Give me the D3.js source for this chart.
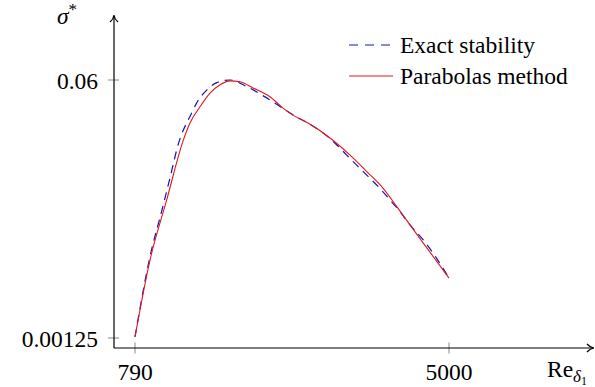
<!DOCTYPE html>
<html>
<head>
<meta charset="utf-8">
<script src="https://cdn.jsdelivr.net/npm/d3@7"></script>
<style>
  body { margin: 0; background: #fff; }
  svg { display: block; }
  text { font-family: "Liberation Serif", "Times New Roman", Times, "DejaVu Serif", "Noto Serif", serif; }
</style>
</head>
<body>
<div id="chart"></div>
<script>
// --------------------------------------------------------
// DATA
// --------------------------------------------------------
const exactRe = [790, 991, 1152, 1259, 1367, 1550, 1617, 1729, 1885, 2064, 2288, 2489, 2667, 2935, 3114, 3315, 3472, 3629, 3763, 3918, 4075, 4209, 4343, 4477, 4655, 4834, 5000];
const exactSigma = [0.0015, 0.0198, 0.0304, 0.0377, 0.0452, 0.0525, 0.0548, 0.0573, 0.0594, 0.0600, 0.0585, 0.0566, 0.0547, 0.0518, 0.0501, 0.0479, 0.0456, 0.0429, 0.0406, 0.0380, 0.0353, 0.0327, 0.0300, 0.0270, 0.0236, 0.0194, 0.0149];

const paraRe = [790, 991, 1215, 1438, 1527, 1662, 1796, 1930, 2064, 2198, 2372, 2600, 2774, 2908, 3110, 3405, 3673, 3901, 4115, 4303, 4477, 4745, 5000];
const paraSigma = [0.0015, 0.0190, 0.0327, 0.0463, 0.0502, 0.0539, 0.0570, 0.0589, 0.0598, 0.0596, 0.0582, 0.0562, 0.0536, 0.0520, 0.0502, 0.0468, 0.0429, 0.0391, 0.0354, 0.0311, 0.0270, 0.0208, 0.0149];

const xTicks = [790, 5000];
const yTicks = [0.00125, 0.06];
const yTickLabels = ["0.00125", "0.06"];
const legendLabels = ["Exact stability", "Parabolas method"];

// --------------------------------------------------------
// VARIABLES
// --------------------------------------------------------
const width = 595;
const height = 387;
const axisX = 114;   // y axis position
const axisY = 348;   // x axis position
const fontSize = 23.5;
const blue = "#1414b4";
const red = "#e3161c";

const x = d3.scaleLinear().domain([790, 5000]).range([135, 449]);
const y = d3.scaleLinear().domain([0.00125, 0.06]).range([338, 80]);

const svg = d3.select("#chart")
  .append("svg")
  .attr("width", width)
  .attr("height", height);

// --------------------------------------------------------
// AXES
// --------------------------------------------------------
// ticks (grey, crossing the axis)
svg.append("g")
  .selectAll("line")
  .data(xTicks)
  .join("line")
  .attr("x1", (d) => x(d))
  .attr("x2", (d) => x(d))
  .attr("y1", axisY - 5.5)
  .attr("y2", axisY + 5.5)
  .attr("stroke", "#888")
  .attr("stroke-width", 1);

svg.append("g")
  .selectAll("line")
  .data(yTicks)
  .join("line")
  .attr("x1", axisX - 6)
  .attr("x2", axisX + 5)
  .attr("y1", (d) => y(d))
  .attr("y2", (d) => y(d))
  .attr("stroke", "#888")
  .attr("stroke-width", 1);

// axis lines
svg.append("line")
  .attr("x1", axisX).attr("y1", axisY)
  .attr("x2", axisX).attr("y2", 16)
  .attr("stroke", "black").attr("stroke-width", 1.2);

svg.append("line")
  .attr("x1", axisX).attr("y1", axisY)
  .attr("x2", 593).attr("y2", axisY)
  .attr("stroke", "black").attr("stroke-width", 1.2);

// arrow heads (latex "to" style)
svg.append("path")
  .attr("d", `M${axisX - 4},${22} Q${axisX - 0.5},${19} ${axisX},${15} Q${axisX + 0.5},${19} ${axisX + 4},${22}`)
  .attr("fill", "none").attr("stroke", "black").attr("stroke-width", 1.2);

svg.append("path")
  .attr("d", `M${587},${axisY - 4} Q${590},${axisY - 0.5} ${594},${axisY} Q${590},${axisY + 0.5} ${587},${axisY + 4}`)
  .attr("fill", "none").attr("stroke", "black").attr("stroke-width", 1.2);

// tick labels
svg.append("g")
  .selectAll("text")
  .data(xTicks)
  .join("text")
  .attr("x", (d) => x(d))
  .attr("y", 380)
  .attr("text-anchor", "middle")
  .attr("font-size", fontSize)
  .text((d) => d);

svg.append("g")
  .selectAll("text")
  .data(yTicks)
  .join("text")
  .attr("x", 98)
  .attr("y", (d) => y(d) + 8.5)
  .attr("text-anchor", "end")
  .attr("font-size", fontSize)
  .text((d, i) => yTickLabels[i]);

// axis titles
const yTitle = svg.append("text")
  .attr("x", 57)
  .attr("y", 24)
  .attr("font-size", fontSize)
  .attr("font-style", "italic");
yTitle.append("tspan").text("σ");
yTitle.append("tspan").attr("dy", -9).attr("font-size", 17).attr("font-style", "normal").text("*");

const xTitle = svg.append("text")
  .attr("x", 547)
  .attr("y", 377)
  .attr("font-size", fontSize);
xTitle.append("tspan").text("Re");
xTitle.append("tspan").attr("dy", 5).attr("font-size", 17).attr("font-style", "italic").text("δ");
xTitle.append("tspan").attr("dy", 3).attr("font-size", 12).text("1");

// --------------------------------------------------------
// CURVES
// --------------------------------------------------------
const line = d3.line()
  .x((d) => x(d[0]))
  .y((d) => y(d[1]))
  .curve(d3.curveMonotoneX);

svg.append("path")
  .datum(d3.zip(exactRe, exactSigma))
  .attr("fill", "none")
  .attr("stroke", blue)
  .attr("stroke-width", 1.2)
  .attr("stroke-dasharray", "8,6")
  .attr("d", line);

svg.append("path")
  .datum(d3.zip(paraRe, paraSigma))
  .attr("fill", "none")
  .attr("stroke", red)
  .attr("stroke-width", 1.1)
  .attr("d", line);

// --------------------------------------------------------
// LEGEND
// --------------------------------------------------------
const legendStyles = [
  { stroke: blue, dash: "9,7" },
  { stroke: red, dash: null },
];

const legend = svg.append("g")
  .selectAll("g")
  .data(legendLabels)
  .join("g")
  .attr("transform", (d, i) => `translate(349, ${45 + i * 31})`);

legend.append("line")
  .attr("x1", 0).attr("x2", 44)
  .attr("stroke", (d, i) => legendStyles[i].stroke)
  .attr("stroke-width", 1.2)
  .attr("stroke-dasharray", (d, i) => legendStyles[i].dash);

legend.append("text")
  .attr("x", 51)
  .attr("y", 8)
  .attr("font-size", fontSize)
  .text((d) => d);
</script>
</body>
</html>
